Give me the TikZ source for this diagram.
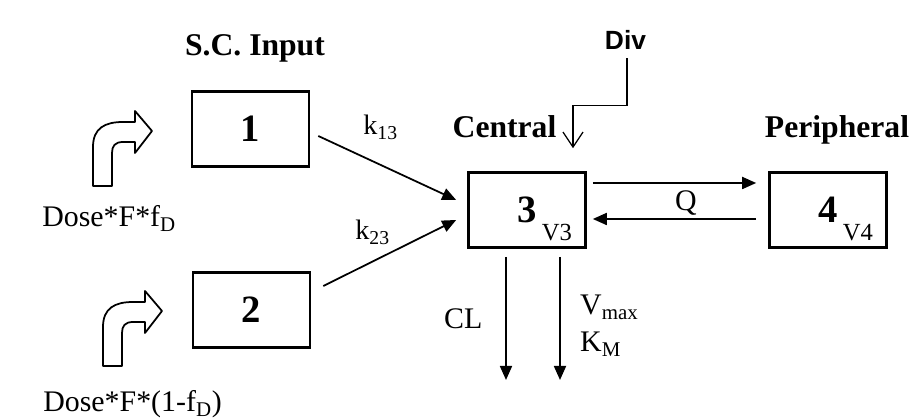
\documentclass[tikz,border=0pt]{standalone}
\usepackage{fontspec}
\setmainfont{Liberation Serif}
\newfontfamily\divfont{Liberation Sans}
\usetikzlibrary{arrows.meta}
\newcommand{\vsub}[1]{\rlap{\hspace{3pt}\raisebox{-10pt}[0pt][0pt]{\fontsize{14}{14}\selectfont\mdseries #1}}}
\tikzset{
  comp/.style={draw, line width=1.5pt, minimum width=2.34cm, minimum height=1.5cm, inner sep=0pt, font=\fontsize{22}{22}\selectfont\bfseries},
  hdr/.style={font=\fontsize{18}{18}\selectfont\bfseries, inner sep=0pt},
  lab/.style={font=\fontsize{17}{21}\selectfont, inner sep=1pt},
  klab/.style={font=\fontsize{16}{16}\selectfont, inner sep=0pt},
  flow/.style={-{Triangle[length=2.8mm,width=2.4mm]}, line width=1pt},
  divflow/.style={-{Straight Barb[length=3mm,width=4mm]}, line width=0.7pt},
  turnshape/.style={draw, line width=1pt, fill=white, line join=round},
  doseturn/.pic={
    \draw[turnshape] (0,0) -- (0,0.78) .. controls (0,1.16) and (0.24,1.28) .. (0.60,1.28)
      -- (0.84,1.28) -- (0.84,1.50) -- (1.18,1.10) -- (0.84,0.66) -- (0.84,0.88) -- (0.60,0.88)
      .. controls (0.44,0.88) and (0.38,0.80) .. (0.38,0.66) -- (0.38,0) -- cycle;
  },
}

\begin{document}
\begin{tikzpicture}
    \useasboundingbox (0,0) rectangle (18.18,8.38);
    % compartments
    \node[comp] (b1) at (5.01,5.80) {1};
    \node[comp] (b2) at (5.03,2.18) {2};
    \node[comp] (c3) at (10.54,4.18) {3\vsub{V3}};
    \node[comp] (c4) at (16.56,4.18) {4\vsub{V4}};
    % headings
    \node[hdr, anchor=base] (scin) at (5.10,7.26) {S.C. Input};
    \node[hdr, anchor=base] (cent) at (10.09,5.62) {Central};
    \node[hdr, anchor=base] (peri) at (16.74,5.62) {Peripheral};
    \node[font=\divfont\fontsize{15}{15}\selectfont\bfseries] (div) at (12.51,7.59) {Div};
    % doses
    \pic at (1.86,4.66) {doseturn};
    \pic at (2.06,1.06) {doseturn};
    \node[lab, anchor=base west, inner sep=0pt] (dose1) at (0.84,3.84) {Dose*F*f\textsubscript{D}};
    \node[lab, anchor=base west, inner sep=0pt] (dose2) at (0.86,0.14) {Dose*F*(1-f\textsubscript{D})};
    % absorption
    \node[klab, anchor=base west] (k13) at (7.26,5.68) {k\textsubscript{13}};
    \node[klab, anchor=base west] (k23) at (7.10,3.58) {k\textsubscript{23}};
    \draw[flow] ([xshift=0.16cm,yshift=-0.14cm]b1.east) -- ([xshift=-0.22cm,yshift=0.20cm]c3.west);
    \draw[flow] ([xshift=0.24cm,yshift=0.48cm]b2.east) -- ([xshift=-0.22cm,yshift=-0.20cm]c3.west);
    % distribution
    \draw[flow] ([xshift=0.12cm,yshift=0.54cm]c3.east) -- ([xshift=-0.24cm,yshift=0.54cm]c4.west)
      node[pos=0.57, below=3pt, lab]{Q};
    \draw[flow] ([xshift=-0.24cm,yshift=-0.18cm]c4.west) -- ([xshift=0.12cm,yshift=-0.18cm]c3.east);
    % iv input
    \draw[divflow] ([xshift=0.03cm,yshift=-0.06cm]div.south) -- ++(0,-0.94) -| ([xshift=0.92cm,yshift=0.46cm]c3.north);
    % elimination
    \coordinate (clend) at (10.12,0.78);
    \coordinate (vmend) at (11.20,0.78);
    \draw[flow] ([xshift=-0.42cm,yshift=-0.16cm]c3.south) -- (clend)
      node[midway, left=12pt, lab]{CL};
    \draw[flow] ([xshift=0.66cm,yshift=-0.16cm]c3.south) -- (vmend)
      node[pos=0.56, right=10pt, lab, align=left]{V\textsubscript{max}\\K\textsubscript{M}};
  \end{tikzpicture}
\end{document}
